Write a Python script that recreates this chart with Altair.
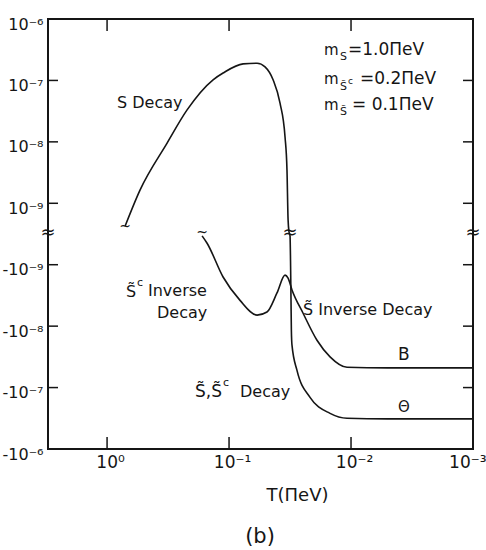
import math
import altair as alt
import pandas as pd

# ---------------- data ----------------
# temperature T (ΠeV) as log10 T ; rates as log10|R| with a sign
# S decay (positive branch, then its negative continuation, the Θ curve)
s_logT = [-0.148, -0.27, -0.492, -0.656, -0.869, -0.951, -1.115, -1.23, -1.295,
          -1.361, -1.418, -1.459, -1.475, -1.484, -1.492,
          -1.500, -1.504, -1.508, -1.511, -1.516, -1.557, -1.664, -1.828, -1.967,
          -2.3, -3.0]
s_logR = [-9.37, -8.785, -8.02, -7.48, -6.99, -6.88, -6.73, -6.72, -6.78,
          -6.99, -7.37, -7.92, -8.46, -9.27, -9.47,
          -9.47, -9.07, -8.42, -7.93, -7.69, -7.28, -6.84, -6.58, -6.50,
          -6.49, -6.49]
s_sign = [1] * 15 + [-1] * 11

# S~c inverse decay, S~ inverse decay (B curve)
sc_logT = [-0.779, -0.82, -0.951, -1.09, -1.23, -1.311, -1.393, -1.459, -1.484,
           -1.516, -1.607, -1.721, -1.828, -1.967, -2.3, -3.0]
sc_logR = [-9.47, -9.35, -8.80, -8.42, -8.18, -8.23, -8.54, -8.83, -8.78,
           -8.59, -8.21, -7.77, -7.50, -7.33, -7.32, -7.32]
sc_sign = [-1] * 16

x_tick_values = [1, 0.1, 0.01, 0.001]
x_tick_labels = ["10⁰", "10⁻¹", "10⁻²", "10⁻³"]
y_tick_rates = [1e-6, 1e-7, 1e-8, 1e-9, -1e-9, -1e-8, -1e-7, -1e-6]
y_tick_labels = ["10⁻⁶", "10⁻⁷", "10⁻⁸", "10⁻⁹", "-10⁻⁹", "-10⁻⁸", "-10⁻⁷", "-10⁻⁶"]

# ---------------- helpers ----------------
BREAK = 9.5          # |R| = 10^-9.5 sits at the axis break
T_MAX, T_MIN = 3.05, 0.001
W, H = 425, 430
FONT = "DejaVu Sans"
INK = "#151515"


def to_v(sign, logr):
    return sign * (logr + BREAK)


rows = []
for i, (lt, lr, sg) in enumerate(zip(s_logT, s_logR, s_sign)):
    rows.append({"series": "S", "order": i, "T": 10 ** lt, "v": to_v(sg, lr)})
for i, (lt, lr, sg) in enumerate(zip(sc_logT, sc_logR, sc_sign)):
    rows.append({"series": "Sc", "order": i, "T": 10 ** lt, "v": to_v(sg, lr)})
curves = pd.DataFrame(rows)

y_tick_v = [to_v(1 if r > 0 else -1, math.log10(abs(r))) for r in y_tick_rates]


def label_expr(vals, labels):
    expr = "''"
    for val, lab in reversed(list(zip(vals, labels))):
        expr = f"abs(datum.value - ({val})) < {abs(val) * 1e-6 + 1e-9} ? '{lab}' : {expr}"
    return expr


decades = math.log10(T_MAX) - math.log10(T_MIN)


def T_at(px):   # absolute page x -> T
    return 10 ** (math.log10(T_MAX) - (px - 48) / W * decades)


def v_at(py):   # absolute page y -> v
    return 3.5 - (py - 19) / H * 7.0


xscale = alt.Scale(type="log", domain=[T_MIN, T_MAX], reverse=True, nice=False)
yscale = alt.Scale(domain=[-3.5, 3.5], nice=False, zero=False)

last_x = "datum.value < 0.002"
xaxis = alt.Axis(values=x_tick_values, labelExpr=label_expr(x_tick_values, x_tick_labels),
                 domain=False, ticks=False, grid=False, labelFlush=False, labelOverlap=False,
                 labelBound=False, labelFontSize=17, labelPadding=5, labelFont=FONT,
                 labelAlign={"condition": {"test": last_x, "value": "right"}, "value": "center"},
                 labelOffset={"condition": {"test": last_x, "value": 13}, "value": 3},
                 labelColor=INK, title="T(ΠeV)", titleFont=FONT, titleFontSize=18,
                 titleFontWeight="normal", titleColor=INK, titleX=249, titleY=46,
                 titleAlign="center", titleBaseline="middle")
yaxis = alt.Axis(values=y_tick_v, labelExpr=label_expr(y_tick_v, y_tick_labels),
                 domain=False, ticks=False, grid=False, labelFlush=False, labelOverlap=False,
                 labelBound=False, labelFontSize=16, labelPadding=5, labelOffset=5,
                 labelFont=FONT, labelColor=INK, title=None)

lines = alt.Chart(curves).mark_line(color=INK, strokeWidth=1.6, interpolate="monotone").encode(
    x=alt.X("T:Q", scale=xscale, axis=xaxis),
    y=alt.Y("v:Q", scale=yscale, axis=yaxis),
    detail="series:N",
    order="order:Q",
)

inner_y = pd.DataFrame({"v": [v for v in y_tick_v if abs(v) < 3.4]})
inner_x = pd.DataFrame({"T": [t for t in x_tick_values if t > T_MIN * 1.5]})

tick_left = alt.Chart(inner_y).mark_rule(color=INK, strokeWidth=1.5).encode(
    y="v:Q", x=alt.value(0), x2=alt.value(10))
tick_right = alt.Chart(inner_y).mark_rule(color=INK, strokeWidth=1.5).encode(
    y="v:Q", x=alt.value(W), x2=alt.value(W - 10))
tick_bottom = alt.Chart(inner_x).mark_rule(color=INK, strokeWidth=1.5).encode(
    x="T:Q", y=alt.value(H), y2=alt.value(H - 12))
tick_top = alt.Chart(inner_x).mark_rule(color=INK, strokeWidth=1.5).encode(
    x="T:Q", y=alt.value(0), y2=alt.value(12))

# annotations: (text, page x, page y, size, align)
notes = [
    ("S Decay", 117, 103, 16, "left"),
    ("m", 324, 50, 15, "left"), ("S", 340, 57, 11, "left"), ("=1.0ΠeV", 348, 50, 17, "left"),
    ("m", 324, 79, 15, "left"), ("S\u0303", 340, 87, 11, "left"), ("c", 348, 81, 9, "left"),
    ("=0.2ΠeV", 360, 79, 17, "left"),
    ("m", 324, 105, 15, "left"), ("S\u0303", 340, 112, 11, "left"), ("= 0.1ΠeV", 352, 105, 17, "left"),
    ("S\u0303", 126, 292, 16, "left"), ("c", 137, 283, 11, "left"),
    ("Inverse", 148, 291, 16, "left"), ("Decay", 157, 313, 16, "left"),
    ("S\u0303 Inverse Decay", 303, 310, 16, "left"),
    ("B", 398, 355, 17, "left"),
    ("Θ", 398, 407, 15, "left"),
    ("S\u0303,S\u0303", 195, 392, 17, "left"), ("c", 223, 383, 11, "left"),
    ("Decay", 240, 392, 16, "left"),
    ("~", 125, 227, 14, "center"), ("~", 202, 233, 14, "center"),
    ("≈", 48, 233, 18, "center"), ("≈", 290, 233, 18, "center"), ("≈", 473, 233, 18, "center"),
    ("(b)", 260, 537, 21, "center"),
]

note_layers = []
for text, px, py, size, align in notes:
    note_layers.append(
        alt.Chart(curves).mark_text(text=text, font=FONT, fontSize=size, align=align,
                                    baseline="middle", color=INK).encode(
            x=alt.datum(T_at(px)), y=alt.datum(v_at(py))
        ).transform_filter("datum.order == 0 && datum.series == 'S'")
    )

chart = alt.layer(lines, tick_left, tick_right, tick_bottom, tick_top, *note_layers).properties(
    width=W, height=H,
    autosize=alt.AutoSizeParams(type="none"),
    padding={"left": 48, "top": 19, "right": 13, "bottom": 101},
    background="white",
).configure_view(stroke=INK, strokeWidth=2)

chart.save("out.html", embed_options={"renderer": "svg", "actions": False})
